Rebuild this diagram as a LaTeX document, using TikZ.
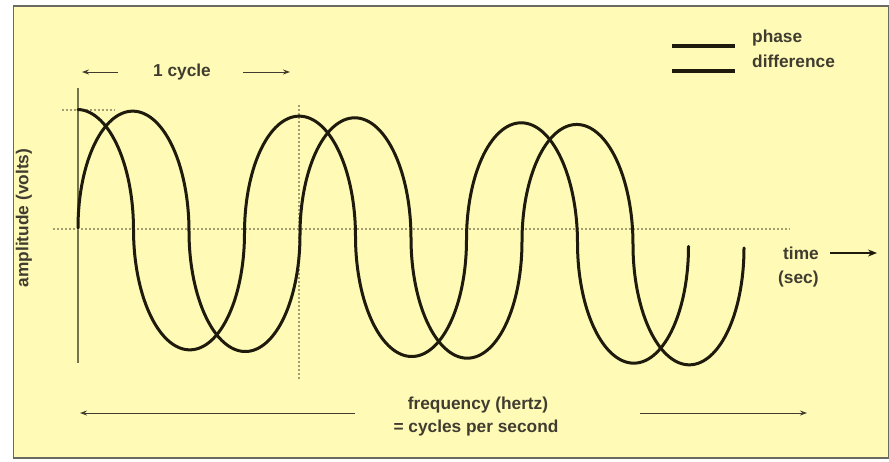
\documentclass[tikz,border=0pt]{standalone}
\usepackage{fontspec}
\setmainfont{Liberation Sans}
\usetikzlibrary{arrows.meta}
\definecolor{bg}{HTML}{FFFBB6}
\definecolor{ink}{HTML}{1E1A0C}
\definecolor{axiscol}{HTML}{77734E}
\definecolor{dotcol}{HTML}{A29E72}
\definecolor{framecol}{HTML}{6A6A62}
\tikzset{
  lbl/.style={font=\fontsize{17.3}{19}\selectfont\bfseries, text=ink!85, inner sep=0pt},
  wave/.style={ink, line width=3pt, line join=round, line cap=round},
  dotline/.style={dotcol, line width=1.3pt, dash pattern=on 2pt off 2pt},
  thinarrow/.style={ink!85, line width=1pt, -{Stealth[length=7pt,width=5pt]}},
  legendbar/.style={ink, line width=4pt},
}
\begin{document}
\begin{tikzpicture}[x=1pt,y=-1pt]
\fill[white] (0,0) rectangle (889,461);
\useasboundingbox (0,0) rectangle (889,461);
\draw[fill=bg, draw=framecol, line width=1.6pt] (13.5,6) rectangle (889,458);

% axes and guides
\coordinate (yaxtop) at (78,88);
\coordinate (yaxbot) at (78,363);
\draw[axiscol, line width=1.3pt] (yaxtop) -- (yaxbot);
\coordinate (hdl) at (53,229);
\coordinate (hdr) at (790,229);
\draw[dotline] (hdl) -- (hdr);
\coordinate (vdt) at (299,105);
\coordinate (vdb) at (299,380);
\draw[dotline] (vdt) -- (vdb);
\coordinate (pkl) at (62,110);
\coordinate (pkr) at (115,110);
\draw[dotline] (pkl) -- (pkr);

% waves: chains of half ellipses (half period 111, amplitude 118.5, slight downward drift)
\coordinate (waStart) at (78,228);
\draw[wave] (waStart)
  \foreach \xo/\sg in {78/1,189/-1,300/1,411/-1,522/1,633/-1} {
    -- plot[domain=0:180, samples=91]
      ({\xo+55.5*(1-cos(\x))}, {228+0.03*(\xo-78+55.5*(1-cos(\x))) + (\sg)*(-118.5*sin(\x))})
  };
\coordinate (wbStart) at (78,109.5);
\draw[wave] (wbStart)
  -- plot[domain=90:180, samples=46]
      ({22.5+55.5*(1-cos(\x))}, {228+0.03*(22.5-78+55.5*(1-cos(\x))) - 118.5*sin(\x)})
  \foreach \xo/\sg in {133.5/-1,244.5/1,355.5/-1,466.5/1,577.5/-1} {
    -- plot[domain=0:180, samples=91]
      ({\xo+55.5*(1-cos(\x))}, {228+0.03*(\xo-78+55.5*(1-cos(\x))) + (\sg)*(-118.5*sin(\x))})
  };

% 1 cycle
\node[lbl] (cyc) at (182,72) {1 cycle};
\coordinate (cycLs) at (118,72);
\coordinate (cycLe) at (82,72);
\coordinate (cycRs) at (243,72);
\coordinate (cycRe) at (290,72);
\draw[thinarrow] (cycLs) -- (cycLe);
\draw[thinarrow] (cycRs) -- (cycRe);

% legend
\coordinate (lg1a) at (672,46);
\coordinate (lg1b) at (735,46);
\coordinate (lg2a) at (672,71);
\coordinate (lg2b) at (735,71);
\draw[legendbar] (lg1a) -- (lg1b);
\draw[legendbar] (lg2a) -- (lg2b);
\node[lbl, anchor=west] (phase) at (752,38) {phase};
\node[lbl, anchor=west] (diff) at (752,61) {difference};

% time
\node[lbl, anchor=west] (time) at (783,253) {time};
\node[lbl, anchor=west] (sec) at (778,279) {(sec)};
\coordinate (tstart) at (830,253);
\coordinate (tarr) at (877,253);
\draw[ink, line width=1.3pt, -{Stealth[length=9pt,width=7pt]}] (tstart) -- (tarr);

% amplitude
\node[lbl, rotate=90] (amp) at (24,218) {amplitude (volts)};

% frequency
\node[lbl] (freq) at (478,405) {frequency (hertz)};
\node[lbl] (cps) at (476,428) {= cycles per second};
\coordinate (fLs) at (355,413);
\coordinate (fLe) at (80,413);
\coordinate (fRs) at (640,413);
\coordinate (fRe) at (807,413);
\draw[thinarrow] (fLs) -- (fLe);
\draw[thinarrow] (fRs) -- (fRe);
\end{tikzpicture}
\end{document}
